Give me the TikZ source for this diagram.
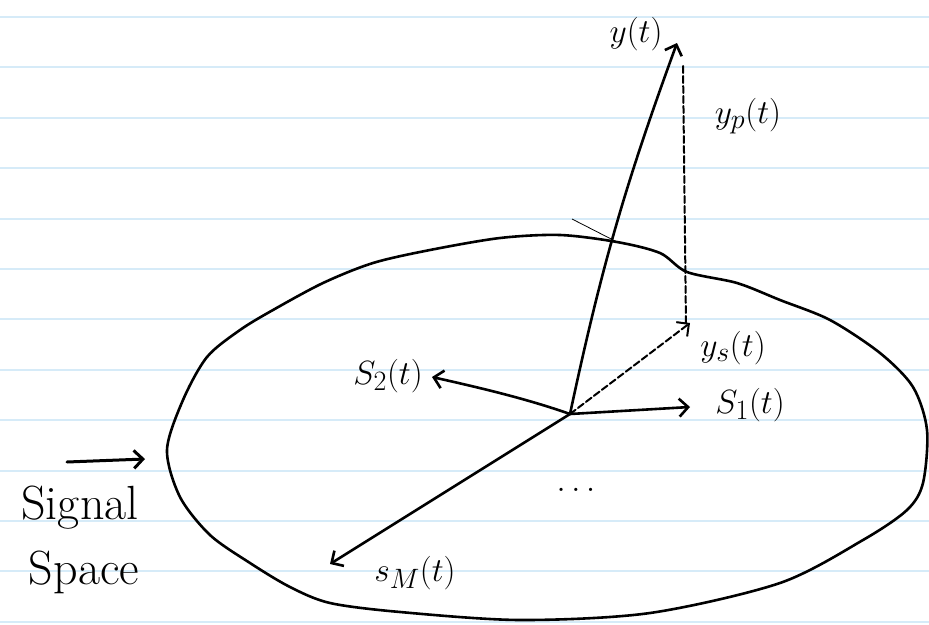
\documentclass[tikz,border=0pt]{standalone}
\usepackage{tikz}
\usetikzlibrary{arrows.meta,positioning}
\tikzstyle{ruling} = [draw={rgb,255:red,214;green,235;blue,248}, line width=2pt]
\tikzstyle{pen} = [line width=2.6pt, line cap=round, line join=round]
\tikzstyle{vec} = [pen, -{Straight Barb[length=9pt,width=18pt]}]
\tikzstyle{dashvec} = [vec, line width=2pt, dash pattern=on 7pt off 3pt]
\tikzstyle{lbl} = [inner sep=1pt, font=\Huge, scale=1.35]
\tikzstyle{bigword} = [inner sep=1pt, font=\fontsize{48}{52}\selectfont]

\begin{document}
\begin{tikzpicture}[x=1pt, y=-1pt]
\useasboundingbox (0,0) rectangle (929,624);
\fill[white] (0,0) rectangle (929,624);
\foreach \k in {0,...,12}
  \draw[ruling] (0,{17+50.4*\k}) -- (929,{17+50.4*\k});

% the signal space
\draw[pen] plot[smooth cycle] coordinates {(167,450) (183,400) (207,357) (240,330) (273,310)
  (323,283) (373,263) (430,250) (500,238) (560,235) (617,242) (660,253) (687,272) (737,283)
  (780,300) (830,320) (880,353) (913,387) (927,430) (923,483) (907,510) (863,540) (780,583)
  (650,613) (520,620) (400,612) (330,603) (290,587) (250,563) (210,535) (180,497)};
\draw[line width=0.8pt] (572,219) -- (617,242);

\coordinate (o) at (570,414);
\coordinate (ytip) at (677,43);
\coordinate (ystip) at (690,323);
\coordinate (yptop) at (683,66);
\coordinate (s1tip) at (690,407);
\coordinate (s2tip) at (432,377);
\coordinate (smtip) at (330,564);

\draw[vec] (o) to[bend left=4] (ytip);
\draw[dashvec] (o) -- (ystip);
\draw[pen, line width=2pt, dash pattern=on 7pt off 3pt] (yptop) -- (686,325);
\draw[vec] (o) -- (s1tip);
\draw[vec] (o) .. controls (530,400) and (490,390) .. (s2tip);
\draw[vec] (o) -- (smtip);

\node[lbl] (y) at (636,34) {$y(t)$};
\node[lbl] (yp) at (748,116) {$y_p(t)$};
\node[lbl] (ys) at (733,348) {$y_s(t)$};
\node[lbl] (s1) at (750,405) {$S_1(t)$};
\node[lbl] (s2) at (388,376) {$S_2(t)$};
\node[lbl] (sm) at (415,573) {$s_M(t)$};
\node[lbl] (dots) at (576,490) {$\dots$};

% label of the space
\node[bigword] (sig) at (80,508) {Signal};
\node[bigword] (spc) at (84,572) {Space};
\coordinate (pa) at (67,462);
\coordinate (pb) at (145,459);
\draw[vec, line width=3pt] (pa) -- (pb);
\end{tikzpicture}
\end{document}
